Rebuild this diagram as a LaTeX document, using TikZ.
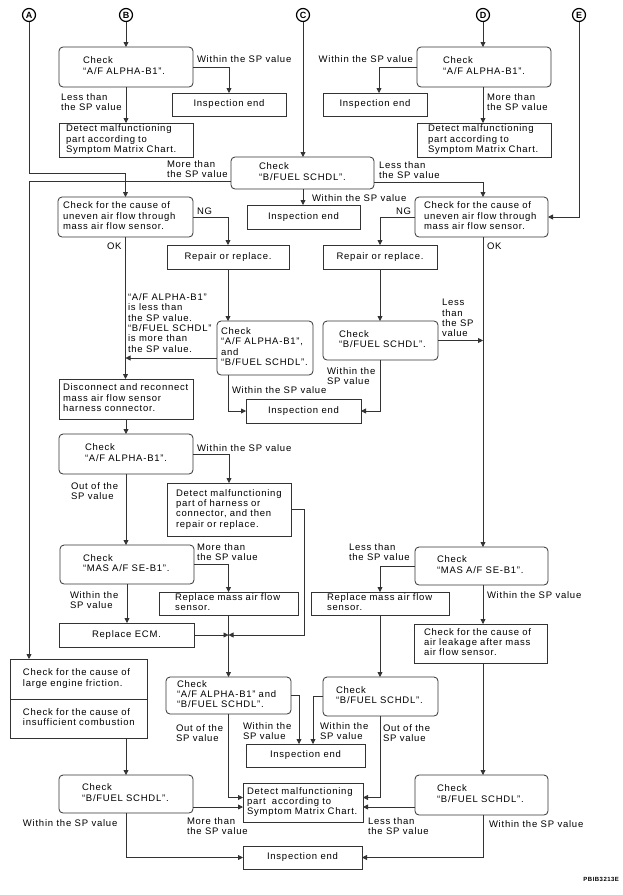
\documentclass[tikz,border=0pt]{standalone}
\usepackage{fontspec}
\setmainfont{Liberation Sans}[LetterSpace=8]
\usetikzlibrary{arrows.meta,calc}
\definecolor{ln}{gray}{0.2}
\newcommand\bx[8]{%
 \pgfmathsetmacro\bxw{#4-#2}\pgfmathsetmacro\bxh{#5-#3}\pgfmathsetmacro\bxs{#6-#2}\pgfmathsetmacro\bxt{\bxw-2*\bxs}%
 \node[#7,anchor=north west,minimum height=\bxh pt,inner xsep=\bxs pt,text width=\bxt pt] (#1) at (#2,#3) {\begin{tabular}{@{}l@{}}#8\end{tabular}};}
\newcommand\cbx[7]{%
 \pgfmathsetmacro\bxw{#4-#2}\pgfmathsetmacro\bxh{#5-#3}%
 \node[#6,anchor=north west,minimum height=\bxh pt,minimum width=\bxw pt] (#1) at (#2,#3) {#7};}
\begin{document}
\begin{tikzpicture}[x=1pt,y=-1pt,
  every node/.style={font=\fontsize{9.5}{10.3}\selectfont, outer sep=0pt},
  rbox/.style={draw=ln, line width=0.8pt, rounded corners=4pt, inner ysep=0pt},
  sbox/.style={draw=ln, line width=0.8pt, inner ysep=0pt},
  lbl/.style={inner sep=0pt, align=left},
  circ/.style={circle, draw, line width=1.2pt, inner sep=0pt, minimum size=13pt, font=\bfseries\fontsize{9}{9}\selectfont},
  arr/.style={draw=ln, line width=0.8pt, -{Triangle[length=5pt,width=5pt]}}]
\useasboundingbox (0,0) rectangle (623,895);
% connectors' origins
\node[circ] (A) at (29,15) {A};
\node[circ] (B) at (126,15) {B};
\node[circ] (C) at (303,15) {C};
\node[circ] (D) at (483,15) {D};
\node[circ] (E) at (579,15) {E};
% boxes
\bx{b1}{59}{47}{193}{87}{83}{rbox}{Check\\“A/F ALPHA-B1”.}
\bx{d1}{417}{47}{551}{87}{443}{rbox}{Check\\“A/F ALPHA-B1”.}
\cbx{ie1}{172}{93}{286}{116}{sbox}{Inspection end}
\cbx{ie2}{323}{93}{427}{116}{sbox}{Inspection end}
\bx{dt1}{59}{123}{193}{157}{66}{sbox}{Detect malfunctioning\\part according to\\Symptom Matrix Chart.}
\bx{dt2}{417}{123}{551}{157}{428}{sbox}{Detect malfunctioning\\part according to\\Symptom Matrix Chart.}
\bx{c1}{231}{157}{374}{189}{259}{rbox}{Check\\“B/FUEL SCHDL”.}
\cbx{ie3}{247}{205}{360}{229}{sbox}{Inspection end}
\bx{lc}{58}{197}{193}{237}{63}{rbox}{Check for the cause of\\uneven air flow through\\mass air flow sensor.}
\bx{rc}{415}{197}{548}{237}{424}{rbox}{Check for the cause of\\uneven air flow through\\mass air flow sensor.}
\cbx{rp1}{167}{245}{289}{269}{sbox}{Repair or replace.}
\cbx{rp2}{323}{245}{437}{269}{sbox}{Repair or replace.}
\bx{mc}{217}{321}{313}{375}{221}{rbox}{Check\\“A/F ALPHA-B1”,\\and\\“B/FUEL SCHDL”.}
\bx{rb}{323}{321}{438}{360}{339}{rbox}{Check\\“B/FUEL SCHDL”.}
\bx{dc}{59}{379}{193}{419}{63}{sbox}{Disconnect and reconnect\\mass air flow sensor\\harness connector.}
\cbx{ie4}{246}{399}{361}{423}{sbox}{Inspection end}
\bx{la3}{59}{434}{193}{474}{85}{rbox}{Check\\“A/F ALPHA-B1”.}
\bx{dh}{167}{483}{291}{536}{176}{sbox}{Detect malfunctioning\\part of harness or\\connector, and then\\repair or replace.}
\bx{lm}{60}{545}{194}{584}{83}{rbox}{Check\\“MAS A/F SE-B1”.}
\bx{rm}{415}{547}{548}{585}{437}{rbox}{Check\\“MAS A/F SE-B1”.}
\bx{rm1}{159}{592}{298}{615}{175}{sbox}{Replace mass air flow\\sensor.}
\bx{rm2}{311}{592}{449}{615}{327}{sbox}{Replace mass air flow\\sensor.}
\cbx{ecm}{59}{623}{194}{647}{sbox}{Replace ECM.}
\bx{al}{414}{624}{547}{663}{424}{sbox}{Check for the cause of\\air leakage after mass\\air flow sensor.}
\bx{fr1}{10}{659}{147}{699}{23}{sbox}{Check for the cause of\\large engine friction.}
\bx{fr2}{10}{699}{147}{738}{23}{sbox}{Check for the cause of\\insufficient combustion}
\bx{bm}{166}{677}{291}{714}{177}{rbox}{Check\\“A/F ALPHA-B1” and\\“B/FUEL SCHDL”.}
\bx{bmr}{323}{677}{438}{716}{336}{rbox}{Check\\“B/FUEL SCHDL”.}
\cbx{ie5}{246}{744}{365}{767}{sbox}{Inspection end}
\bx{bl}{59}{775}{193}{813}{82}{rbox}{Check\\“B/FUEL SCHDL”.}
\bx{br}{415}{775}{548}{815}{437}{rbox}{Check\\“B/FUEL SCHDL”.}
\bx{dtf}{243}{783}{363}{822}{247}{sbox}{Detect malfunctioning\\part\ \ according to\\Symptom Matrix Chart.}
\cbx{ief}{243}{846}{362}{869}{sbox}{Inspection end}
% labels
\node[lbl,anchor=west] (l1) at (197,59) {Within the SP value};
\node[lbl,anchor=west] (l2) at (61,102) {Less than\\the SP value};
\node[lbl,anchor=east] (l3) at (413,59) {Within the SP value};
\node[lbl,anchor=west] (l4) at (487,102) {More than\\the SP value};
\node[lbl,anchor=west] (l5) at (167,169) {More than\\the SP value};
\node[lbl,anchor=west] (l6) at (379,170) {Less than\\the SP value};
\node[lbl,anchor=west] (l7) at (312,198) {Within the SP value};
\node[lbl,anchor=west] (l8) at (197,211) {NG};
\node[lbl,anchor=west] (l9) at (107,246) {OK};
\node[lbl,anchor=west] (l10) at (396,211) {NG};
\node[lbl,anchor=west] (l11) at (487,246) {OK};
\node[lbl,anchor=west] (l12) at (128,323) {“A/F ALPHA-B1”\\is less than\\the SP value.\\“B/FUEL SCHDL”\\is more than\\the SP value.};
\node[lbl,anchor=west] (l13) at (442,318) {Less\\than\\the SP\\value};
\node[lbl,anchor=west] (l14) at (232,390) {Within the SP value};
\node[lbl,anchor=west] (l15) at (327,376) {Within the\\SP value};
\node[lbl,anchor=west] (l16) at (197,448) {Within the SP value};
\node[lbl,anchor=west] (l17) at (71,491) {Out of the\\SP value};
\node[lbl,anchor=west] (l18) at (197,552) {More than\\the SP value};
\node[lbl,anchor=west] (l19) at (70,600) {Within the\\SP value};
\node[lbl,anchor=west] (l20) at (349,552) {Less than\\the SP value};
\node[lbl,anchor=west] (l21) at (487,595) {Within the SP value};
\node[lbl,anchor=west] (l22) at (176,733) {Out of the\\SP value};
\node[lbl,anchor=west] (l23) at (243,731) {Within the\\SP value};
\node[lbl,anchor=west] (l24) at (320,731) {Within the\\SP value};
\node[lbl,anchor=west] (l25) at (383,733) {Out of the\\SP value};
\node[lbl,anchor=west] (l26) at (187,826) {More than\\the SP value};
\node[lbl,anchor=west] (l27) at (23,823) {Within the SP value};
\node[lbl,anchor=west] (l28) at (368,826) {Less than\\the SP value};
\node[lbl,anchor=west] (l29) at (489,824) {Within the SP value};
\node[inner sep=0pt,anchor=east,font=\bfseries\fontsize{6}{6}\selectfont] (code) at (619,879) {PBIB3213E};
% connectors
\coordinate (rx) at ($(rc.south)+(1.5,0)$);
\draw[arr] (B) -- (b1);
\draw[arr] (b1.east) -| (ie1.north);
\draw[arr] (b1) -- (dt1);
\draw[arr] (D) -- (D |- d1.north);
\draw[arr] (d1.west) -| ([xshift=4pt]ie2.north);
\draw[arr] (D |- d1.south) -- (D |- dt2.north);
\draw[arr] (C) -- (C |- c1.north);
\draw[arr] (C |- c1.south) -- (C |- ie3.north);
\coordinate (c1l) at ($(c1.west)+(0,8)$);
\draw[arr] (c1l) -| (A |- fr1.north);
\draw[arr] (A) |- ([yshift=24pt]lc.north) -- (lc.north);
\coordinate (c1r) at ($(c1.east)+(0,9)$);
\draw[arr] (c1r) -| (rx |- rc.north);
\draw[arr] (E) |- (rc.east);
\draw[arr] (lc.east) -| (rp1.north);
\draw[arr] (rc.west) -| (rp2.north);
\draw[arr] (rp1.south) -- (rp1.south |- mc.north);
\draw[arr] (rp2.south) -- (rp2.south |- rb.north);
\draw[arr] (lc.south) -- (lc.south |- dc.north);
\coordinate (mcl) at ($(mc.west)+(0,10)$);
\draw[arr] (mcl) -- (lc.south |- mcl);
\draw[arr] (rp1.south |- mc.south) |- (ie4.west);
\draw[arr] (rb.south) |- (ie4.east);
\draw[arr] (rb.east) -- (rx |- rb.east);
\draw[arr] (rx) -- (rx |- rm.north);
\draw[arr] (dc.south) -- (dc.south |- la3.north);
\draw[arr] (la3.east) -| (dh.north);
\draw[arr] (la3.south) -- (la3.south |- lm.north);
\draw[arr] (lm.east) -| (rm1.north);
\draw[arr] (lm.south) -- (lm.south |- ecm.north);
\coordinate (jx) at (rm1.south |- ecm.east);
\draw[arr] (rm1.south) -- (rm1.south |- bm.north);
\draw[arr] (ecm.east) -- (jx);
\draw[arr] (dh.east) -- ++(13,0) |- (jx);
\draw[arr] (rm.west) -| (rm2.north);
\draw[arr] (rx |- rm.south) -- (rx |- al.north);
\draw[arr] (rm2.south) -- (rm2.south |- bmr.north);
\draw[arr] (rx |- al.south) -- (rx |- br.north);
\draw[arr] (bl.north |- fr2.south) -- (bl.north);
\draw[arr] (bm.east) -| ($(ie5.north)+(-6.5,0)$);
\draw[arr] (bmr.west) -| ($(ie5.north)+(7.5,0)$);
\draw[arr] (bm.south) |- ($(dtf.west)+(0,-5)$);
\coordinate (blr) at ($(bl.east)+(0,13)$);
\draw[arr] (blr) -- (dtf.west |- blr);
\draw[arr] (bmr.south) |- ($(dtf.east)+(0,-5)$);
\coordinate (brl) at ($(br.west)+(0,12)$);
\draw[arr] (brl) -- (dtf.east |- brl);
\draw[arr] (bl.south) |- (ief.west);
\draw[arr] (rx |- br.south) |- (ief.east);
\end{tikzpicture}
\end{document}
